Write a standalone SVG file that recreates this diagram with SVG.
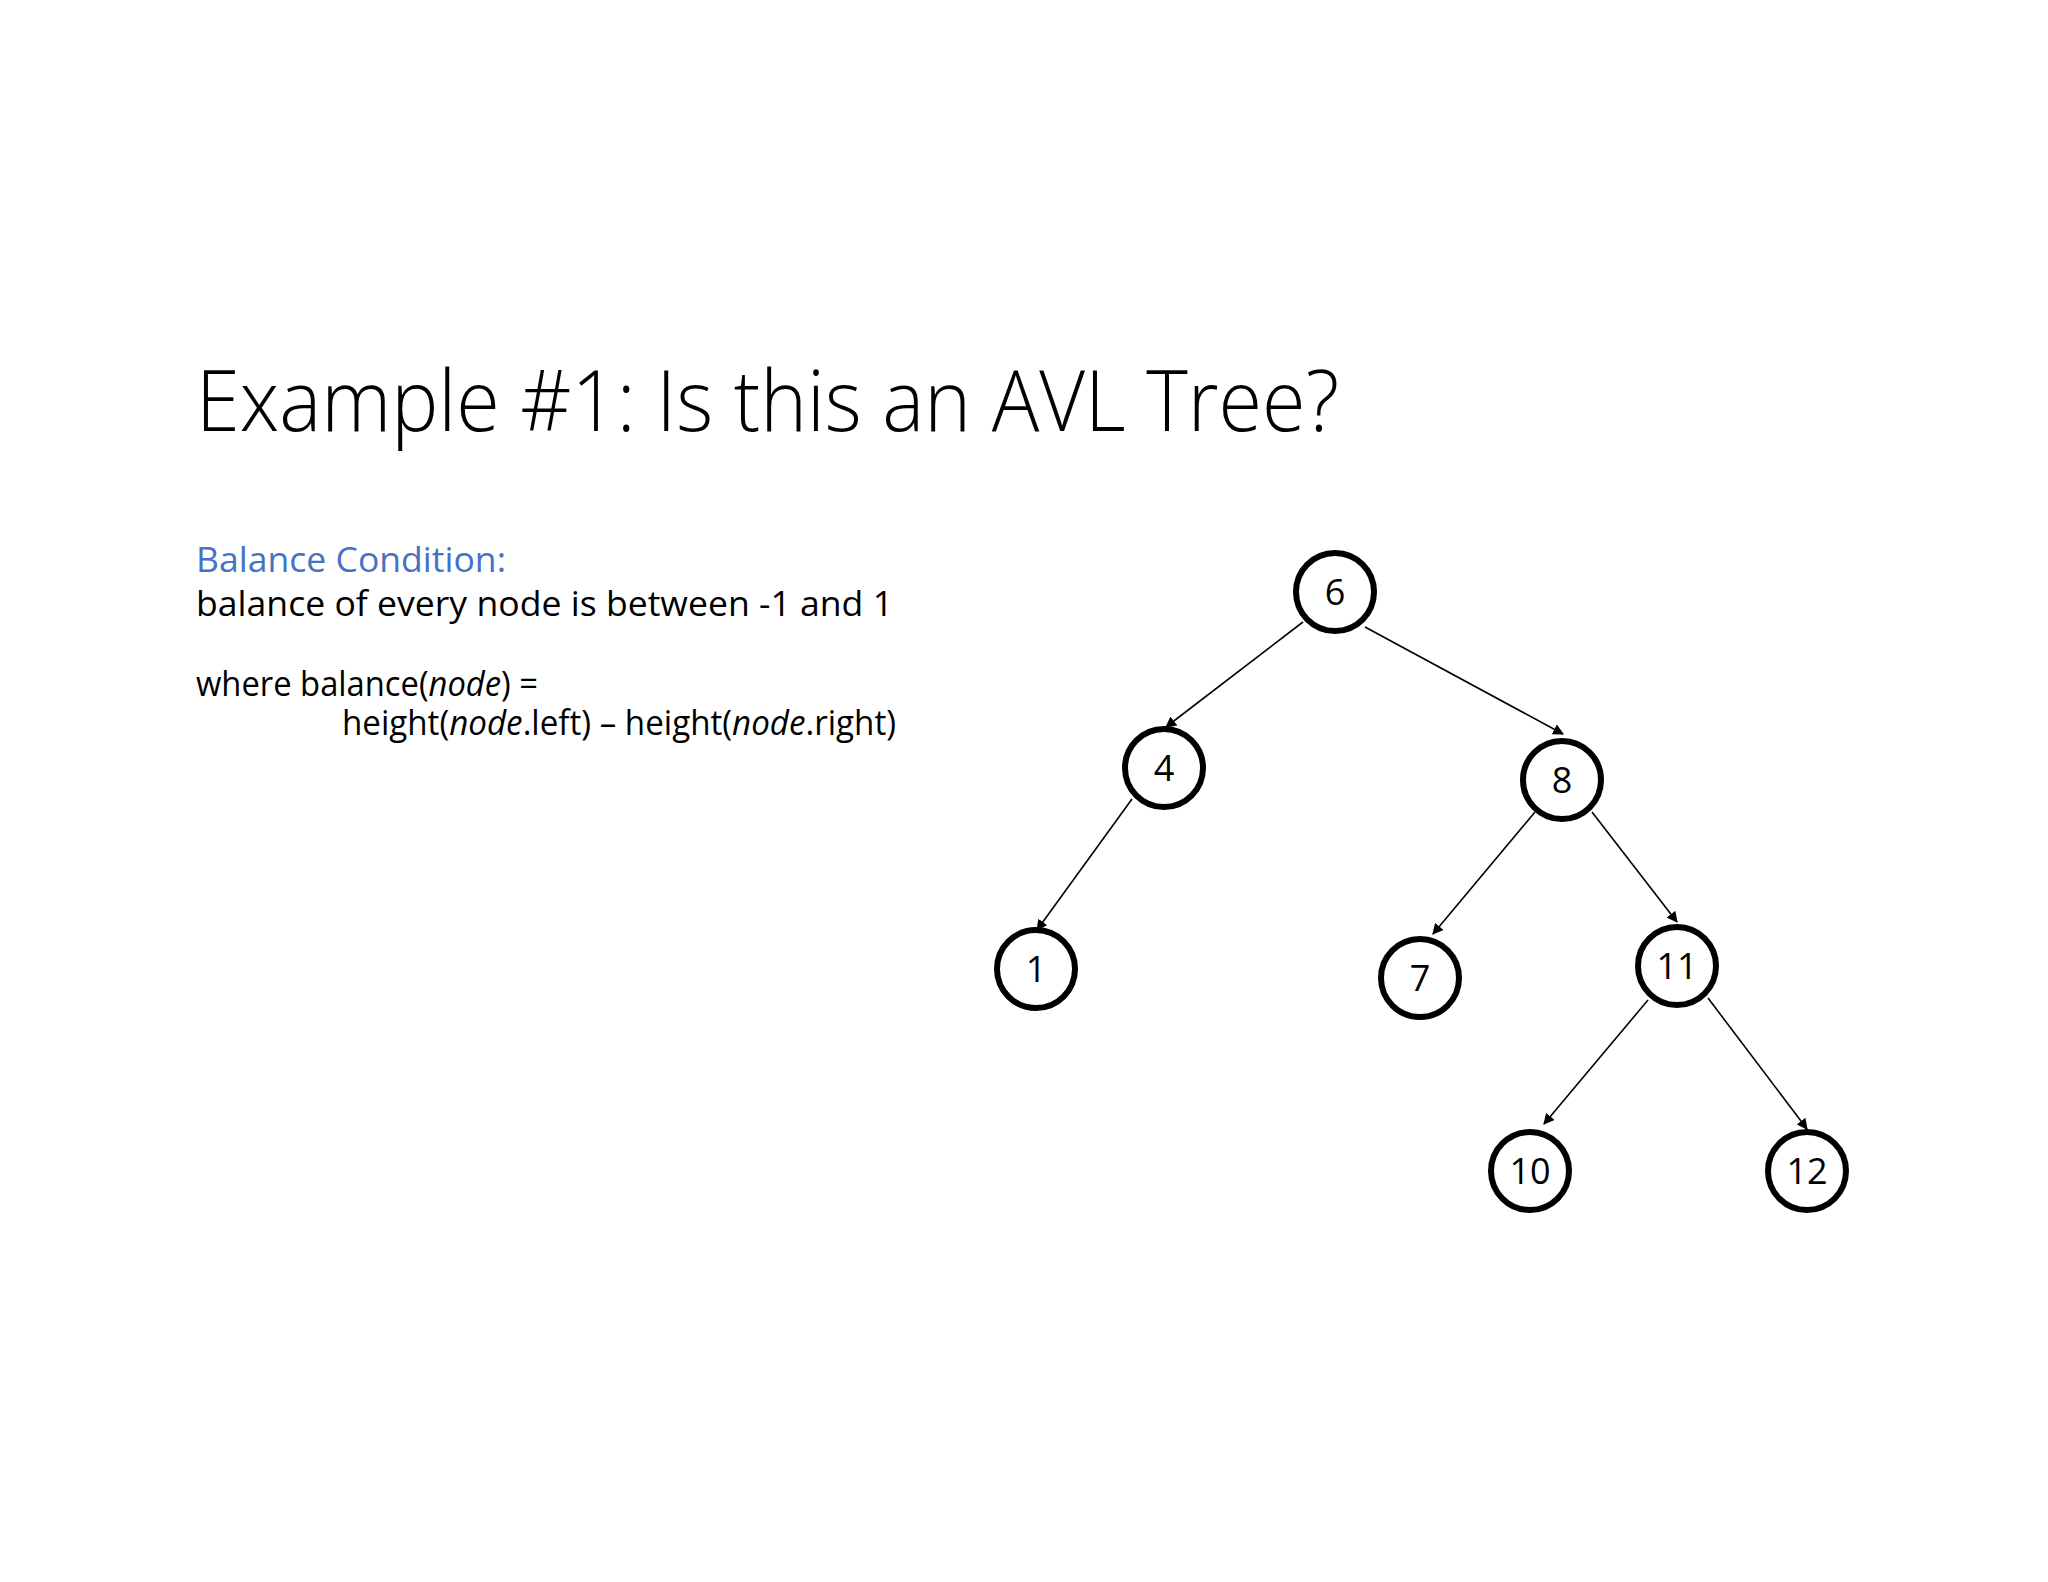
<svg xmlns="http://www.w3.org/2000/svg" width="2048" height="1582" viewBox="0 0 2048 1582">
<style>
text{font-family:"Open Sans","Liberation Sans",sans-serif;fill:#000}
.n circle{fill:#fff;stroke:#000;stroke-width:6}
.n text{font-size:36px;text-anchor:middle}
.b{font-size:35px}
.e line{stroke:#000;stroke-width:1.6;marker-end:url(#a)}
</style>
<defs><marker id="a" viewBox="0 0 10 10" refX="9" refY="5" markerWidth="11" markerHeight="11" orient="auto" markerUnits="userSpaceOnUse"><path d="M0,0L10,5L0,10z" fill="#000"/></marker></defs>
<rect width="2048" height="1582" fill="#fff"/>
<text x="196" y="431" font-size="84" font-weight="300" textLength="1143" lengthAdjust="spacingAndGlyphs">Example #1: Is this an AVL Tree?</text>
<text class="b" x="196" y="572" style="fill:#4472C4" textLength="310" lengthAdjust="spacingAndGlyphs">Balance Condition:</text>
<text class="b" x="196" y="616" textLength="697" lengthAdjust="spacingAndGlyphs">balance of every node is between -1 and 1</text>
<text class="b" x="196" y="696" textLength="342" lengthAdjust="spacingAndGlyphs">where balance(<tspan font-style="italic">node</tspan>) =</text>
<text class="b" x="342" y="735" textLength="554" lengthAdjust="spacingAndGlyphs">height(<tspan font-style="italic">node</tspan>.left) – height(<tspan font-style="italic">node</tspan>.right)</text>
<g class="e">
<line x1="1303" y1="622" x2="1166" y2="727"/>
<line x1="1365" y1="627" x2="1563" y2="734"/>
<line x1="1132" y1="799" x2="1037" y2="930"/>
<line x1="1535" y1="812" x2="1433" y2="934"/>
<line x1="1592" y1="812" x2="1677" y2="922"/>
<line x1="1648" y1="1000" x2="1544" y2="1124"/>
<line x1="1708" y1="998" x2="1807" y2="1129"/>
</g>
<g id="n6" class="n"><circle cx="1335" cy="592" r="39"/><text x="1335" y="605">6</text></g>
<g id="n4" class="n"><circle cx="1164" cy="768" r="39"/><text x="1164" y="781">4</text></g>
<g id="n8" class="n"><circle cx="1562" cy="780" r="39"/><text x="1562" y="793">8</text></g>
<g id="n1" class="n"><circle cx="1036" cy="969" r="39"/><text x="1036" y="982">1</text></g>
<g id="n7" class="n"><circle cx="1420" cy="978" r="39"/><text x="1420" y="991">7</text></g>
<g id="n11" class="n"><circle cx="1677" cy="966" r="39"/><text x="1677" y="979">11</text></g>
<g id="n10" class="n"><circle cx="1530" cy="1171" r="39"/><text x="1530" y="1184">10</text></g>
<g id="n12" class="n"><circle cx="1807" cy="1171" r="39"/><text x="1807" y="1184">12</text></g>
</svg>
